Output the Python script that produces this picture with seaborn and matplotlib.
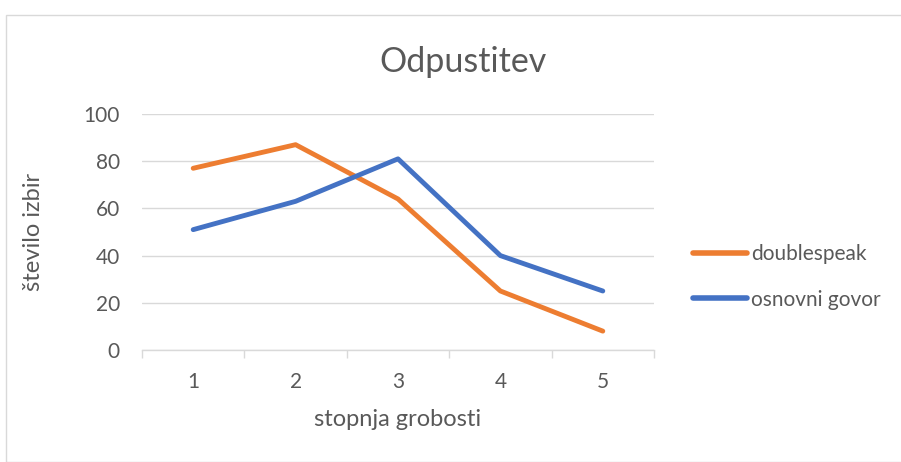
import numpy as np
import pandas as pd
import matplotlib.pyplot as plt
import seaborn as sns
from matplotlib.patches import Rectangle

# data
stopnja = [1, 2, 3, 4, 5]
doublespeak = [77, 87, 64, 25, 8]
osnovni_govor = [51, 63, 81, 40, 25]

df = pd.DataFrame({
    "stopnja": stopnja * 2,
    "izbire": doublespeak + osnovni_govor,
    "serija": ["doublespeak"] * 5 + ["osnovni govor"] * 5,
})

sns.set_theme(style="white")
plt.rcParams['font.family'] = ['Lato', 'DejaVu Sans']
grey = "#595959"

fig = plt.figure(figsize=(9.01, 4.62), dpi=100)
ax = fig.add_axes([142/901, 1 - 350/462, 512/901, 236/462])

# chart frame
fig.patches.append(Rectangle((6/901, 0), 1, 1 - 15/462, transform=fig.transFigure,
                             fill=False, edgecolor="#d9d9d9", linewidth=1))

sns.lineplot(data=df, x="stopnja", y="izbire", hue="serija",
             palette=["#ed7d31", "#4472c4"], linewidth=3.5, ax=ax,
             legend=False, solid_capstyle="round")

ax.set_xlim(0.5, 5.5)
ax.set_ylim(0, 100)
ax.set_yticks(range(0, 101, 20))
ax.set_xticks(stopnja)
ax.grid(axis="y", color="#d9d9d9", linewidth=1)
ax.set_axisbelow(True)
for s in ["top", "right", "left"]:
    ax.spines[s].set_visible(False)
ax.spines["bottom"].set_color("#d9d9d9")
ax.spines["bottom"].set_linewidth(1)

# category boundary ticks
ax.set_xticks([0.5, 1.5, 2.5, 3.5, 4.5, 5.5], minor=True)
ax.tick_params(axis="x", which="minor", length=6, color="#d9d9d9", width=1, bottom=True)
ax.tick_params(axis="x", which="major", length=0, pad=16, labelsize=15, labelcolor=grey)
ax.tick_params(axis="y", length=0, pad=16, labelsize=15, labelcolor=grey)

ax.set_xlabel("stopnja grobosti", fontsize=17, color=grey, va="center")
ax.xaxis.set_label_coords(0.5, (350 - 420) / 236)
ax.set_ylabel("število izbir", fontsize=17, color=grey, va="center")
ax.yaxis.set_label_coords((33 - 142) / 512, 0.5)
fig.text(463/901, 1 - 62/462, "Odpustitev", ha="center", va="center",
         fontsize=24.5, color=grey)

# legend
handles = [plt.Line2D([], [], color="#ed7d31", linewidth=4, solid_capstyle="round"),
           plt.Line2D([], [], color="#4472c4", linewidth=4, solid_capstyle="round")]
fig.legend(handles, ["doublespeak", "osnovni govor"], loc="center left",
           bbox_to_anchor=(693/901, 1 - 277/462), frameon=False, fontsize=15,
           labelcolor=grey, handlelength=2.6, handletextpad=0.2, labelspacing=1.2,
           borderpad=0, borderaxespad=0)

fig.savefig("out.png", dpi=100)
